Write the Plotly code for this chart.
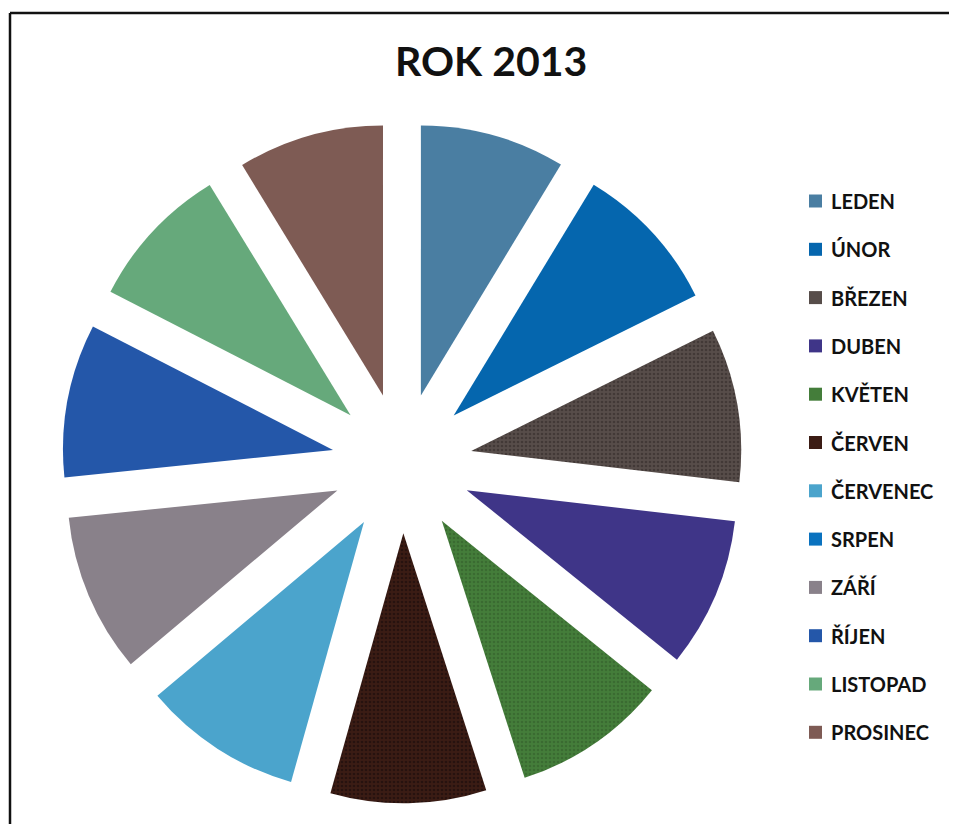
import plotly.graph_objects as go

months = ["LEDEN", "ÚNOR", "BŘEZEN", "DUBEN", "KVĚTEN", "ČERVEN",
          "ČERVENEC", "SRPEN", "ZÁŘÍ", "ŘÍJEN", "LISTOPAD", "PROSINEC"]
values = [31.2, 32.3, 33.0, 32.2, 33.2, 33.5, 34.2, 0, 34.2, 33.0, 31.3, 31.4]
colors = ["#4a7ea2", "#0566ae", "#574d4a", "#3f3588", "#447d3a", "#3b1c14",
          "#4ba4cc", "#0a72bf", "#89818a", "#2457a9", "#66a97b", "#7e5b54"]
patterns = ["", "", ".", "", ".", ".", "", "", "", "", "", ""]
pattern_fg = ["#000", "#000", "#2e2624", "#000", "#2f5a28", "#14080a",
              "#000", "#000", "#000", "#000", "#000", "#000"]
title_text = "ROK 2013"

OFF = 8  # default page body margin
W, H = 957 - 2 * OFF, 832 - 2 * OFF


def px(x):
    return (x - OFF) / W


def py(y):
    return 1 - (y - OFF) / H


cx, cy, R, pull = 402, 463, 270, 0.26
half = R * (1 + pull)

fig = go.Figure(go.Pie(
    labels=months, values=values, sort=False, direction="clockwise", rotation=0,
    pull=[pull] * len(months), textinfo="none", hoverinfo="label+value",
    marker=dict(colors=colors, line=dict(width=0),
                pattern=dict(shape=patterns, fgcolor=pattern_fg, size=4,
                             solidity=0.35, fillmode="overlay")),
    domain=dict(x=[px(cx - half), px(cx + half)],
                y=[py(cy + half), py(cy - half)]),
    showlegend=False,
))

frame = dict(color="#111", width=2.5)
shapes = [
    dict(type="line", xref="paper", yref="paper",
         x0=px(10), y0=0, x1=px(10), y1=py(13), line=frame),
    dict(type="line", xref="paper", yref="paper",
         x0=px(10), y0=py(13), x1=1, y1=py(13), line=frame),
]
annotations = [dict(text=f"<b>{title_text}</b>", x=px(491), y=py(60),
                    xref="paper", yref="paper", showarrow=False,
                    font=dict(family="Lato", size=41, color="#111"),
                    xanchor="center", yanchor="middle")]
for i, m in enumerate(months):
    yc = 201 + 48.3 * i
    shapes.append(dict(type="rect", xref="paper", yref="paper",
                       x0=px(809), x1=px(822), y0=py(yc + 6.5), y1=py(yc - 6.5),
                       line=dict(width=0), fillcolor=colors[i]))
    annotations.append(dict(text=f"<b>{m}</b>", x=px(829), y=py(yc),
                            xref="paper", yref="paper", showarrow=False,
                            font=dict(family="Lato", size=20, color="#111"),
                            xanchor="left", yanchor="middle"))

fig.update_layout(width=W, height=H, margin=dict(l=0, r=0, t=0, b=0),
                  paper_bgcolor="white", plot_bgcolor="white",
                  shapes=shapes, annotations=annotations)
fig.write_html("out.html")
